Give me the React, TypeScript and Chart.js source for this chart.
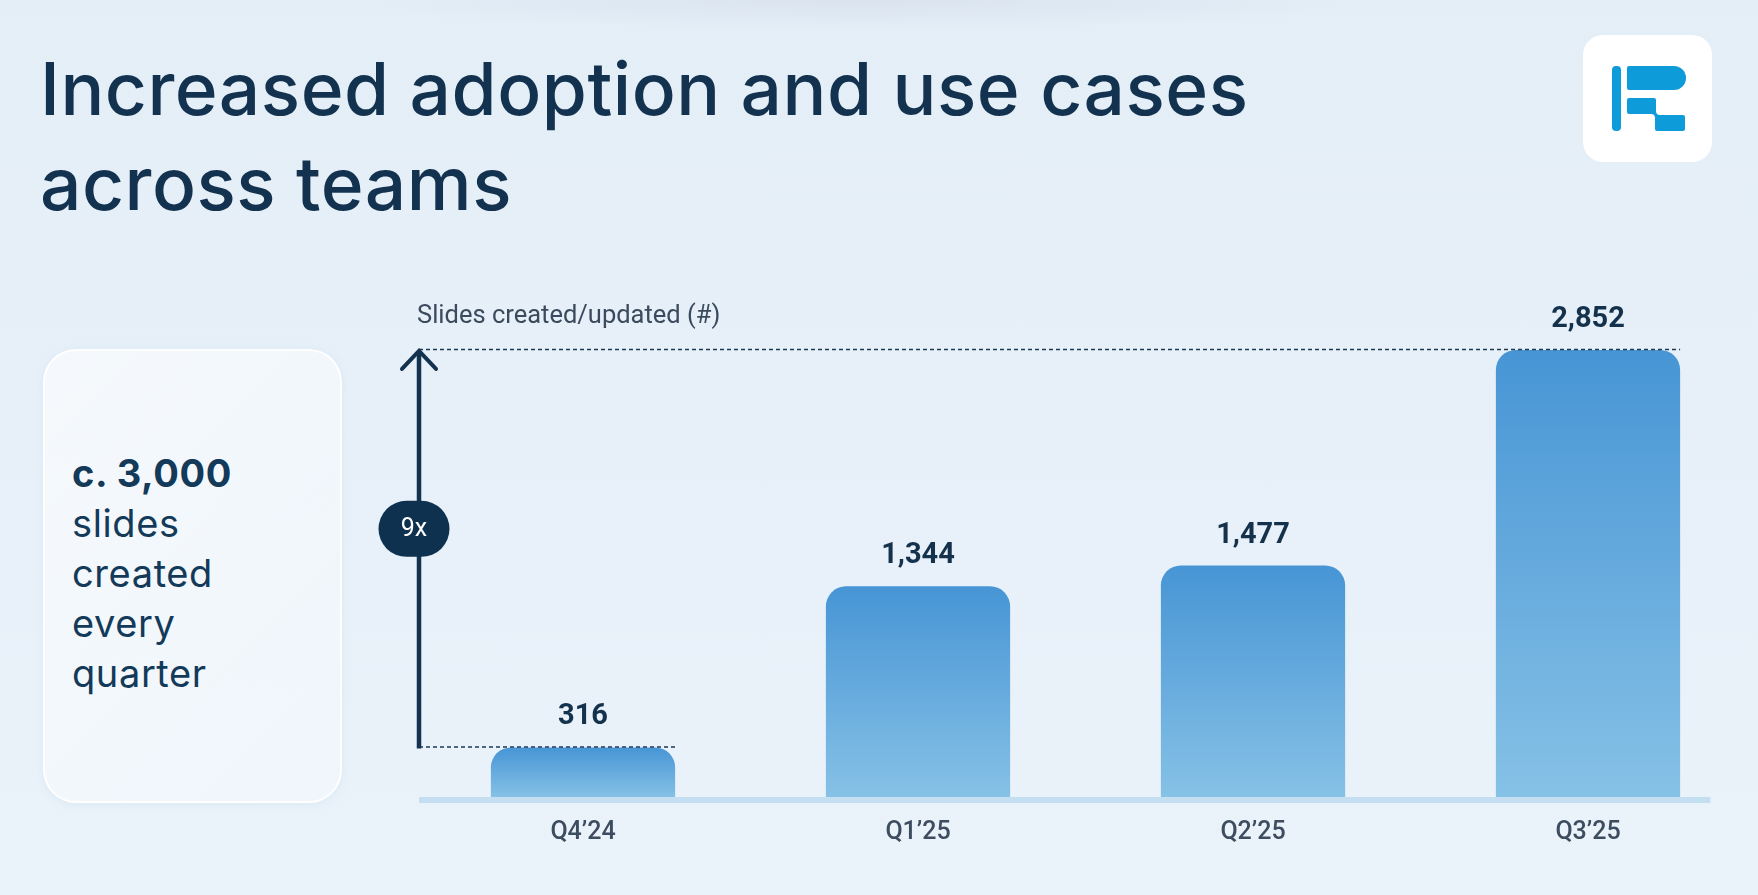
import React, { useEffect, useRef } from "react";
import { Chart, registerables } from "chart.js";

Chart.register(...registerables);

// ---- data ----
const categories = ["Q4’24", "Q1’25", "Q2’25", "Q3’25"];
const slides = [316, 1344, 1477, 2852];
const valueLabels = ["316", "1,344", "1,477", "2,852"];
const growthLabel = "9x";
const axisTitle = "Slides created/updated (#)";
const yMax = 3000;
const titleLines = ["Increased adoption and use cases", "across teams"];
const calloutBold = "c. 3,000";
const calloutLines = ["slides", "created", "every", "quarter"];

const NAVY = "#13324f";

const overlayPlugin = {
  id: "overlay",
  beforeDatasetsDraw(chart: any) {
    const { ctx, chartArea } = chart;
    ctx.save();
    ctx.fillStyle = "#c3dff1";
    const x0 = chartArea.left + 3.5;
    const x1 = chartArea.right - 45;
    ctx.fillRect(x0, chartArea.bottom, x1 - x0, 6);
    ctx.restore();
  },
  afterDatasetsDraw(chart: any) {
    const { ctx, chartArea } = chart;
    const meta = chart.getDatasetMeta(0);
    const els = meta.data;
    const first = els[0];
    const last = els[els.length - 1];
    const ax = chartArea.left + 3.5;
    ctx.save();

    // axis title
    ctx.font = "400 25.5px Roboto";
    ctx.fillStyle = "#3b4a5d";
    ctx.textAlign = "left";
    ctx.textBaseline = "alphabetic";
    ctx.fillText(axisTitle, chartArea.left + 1.5, chartArea.top - 4);

    // value labels
    ctx.font = "700 29px Roboto";
    ctx.fillStyle = "#15324d";
    ctx.textAlign = "center";
    els.forEach((el: any, i: number) => {
      ctx.fillText(valueLabels[i], el.x, el.y - 23);
    });

    // dotted reference lines
    ctx.strokeStyle = "#1d3a55";
    ctx.lineWidth = 1.6;
    ctx.setLineDash([4, 3]);
    [first, last].forEach((el: any) => {
      ctx.beginPath();
      ctx.moveTo(ax, el.y - 0.5);
      ctx.lineTo(el.x + el.width / 2, el.y - 0.5);
      ctx.stroke();
    });
    ctx.setLineDash([]);

    // arrow
    ctx.strokeStyle = NAVY;
    ctx.lineWidth = 4.5;
    ctx.lineCap = "butt";
    ctx.beginPath();
    ctx.moveTo(ax, first.y + 1);
    ctx.lineTo(ax, last.y + 2);
    ctx.stroke();
    ctx.lineWidth = 4;
    ctx.lineCap = "round";
    ctx.lineJoin = "miter";
    ctx.beginPath();
    ctx.moveTo(ax - 17, last.y + 19);
    ctx.lineTo(ax, last.y + 1);
    ctx.lineTo(ax + 17, last.y + 19);
    ctx.stroke();

    // badge
    const cy = last.y + (first.y - last.y) * 0.45;
    const cx = ax - 5;
    ctx.fillStyle = "#0f3150";
    ctx.beginPath();
    ctx.roundRect(cx - 35.5, cy - 28, 71, 56, 28);
    ctx.fill();
    ctx.fillStyle = "#ffffff";
    ctx.font = "400 25px Roboto";
    ctx.textAlign = "center";
    ctx.textBaseline = "middle";
    ctx.fillText(growthLabel, cx, cy + 1);

    ctx.restore();
  },
};

function BarChart() {
  const ref = useRef<HTMLCanvasElement | null>(null);
  useEffect(() => {
    if (!ref.current) return;
    const chart = new Chart(ref.current, {
      type: "bar",
      data: {
        labels: categories,
        datasets: [
          {
            data: slides,
            backgroundColor: (c: any) => {
              const ch = c.chart;
              const area = ch.chartArea;
              if (!area || c.type !== "data") return "#5ea8dd";
              const top = ch.scales.y.getPixelForValue(c.raw);
              const g = ch.ctx.createLinearGradient(0, top, 0, area.bottom);
              g.addColorStop(0, "#4795d5");
              g.addColorStop(1, "#86c1e6");
              return g;
            },
            borderWidth: 0,
            borderRadius: { topLeft: 20, topRight: 20, bottomLeft: 0, bottomRight: 0 },
            borderSkipped: "bottom",
            barPercentage: 0.55,
            categoryPercentage: 1,
          },
        ],
      },
      options: {
        responsive: false,
        animation: false,
        layout: { padding: { left: 415.5, right: 2.5, top: 326.8, bottom: 26 } },
        plugins: {
          legend: { display: false },
          tooltip: { enabled: false },
        },
        scales: {
          x: {
            grid: { display: false, drawTicks: false },
            border: { display: false },
            ticks: {
              color: "#3d4c5f",
              font: { family: "Roboto", size: 25, weight: "500" },
              padding: 21,
            },
          },
          y: { display: false, min: 0, max: yMax },
        },
      },
      plugins: [overlayPlugin],
    });
    return () => chart.destroy();
  }, []);
  return (
    <canvas
      ref={ref}
      width={1758}
      height={895}
      style={{ position: "absolute", left: 0, top: 0, width: 1758, height: 895 }}
    />
  );
}

function Logo() {
  return (
    <div
      style={{
        position: "absolute",
        left: 1583,
        top: 35,
        width: 129,
        height: 127,
        borderRadius: 20,
        background: "#ffffff",
      }}
    >
      <svg width={129} height={127} viewBox="1583 35 129 127" style={{ position: "absolute", left: 0, top: 0 }}>
        <rect x={1612} y={66} width={9} height={65} rx={4} fill="#0e9bd9" />
        <path d="M1629 66 H1674 A12 12 0 0 1 1674 90 H1629 Q1627 90 1627 88 V68 Q1627 66 1629 66 Z" fill="#0e9bd9" />
        <path
          d="M1629 98 H1654 Q1656 98 1656 100 V111 Q1656 115 1660 115 H1683 Q1685 115 1685 117 V129 Q1685 131 1683 131 H1657 Q1655 131 1655 129 V118 Q1655 114 1651 114 H1629 Q1627 114 1627 112 V100 Q1627 98 1629 98 Z"
          fill="#0e9bd9"
        />
      </svg>
    </div>
  );
}

export default function App() {
  return (
    <div
      style={{
        position: "absolute",
        left: 0,
        top: 0,
        width: 1758,
        height: 895,
        overflow: "hidden",
        background:
          "radial-gradient(ellipse 520px 30px at 860px 0px, rgba(205,214,228,0.45), rgba(205,214,228,0) 100%), linear-gradient(180deg, #e4eef7 0%, #e8f1f9 60%, #eaf3fa 100%)",
        fontFamily: "Inter, 'Noto Sans', sans-serif",
        color: NAVY,
      }}
    >
      <div
        style={{
          position: "absolute",
          left: 40,
          top: 41,
          fontSize: 73,
          lineHeight: "95px",
          fontWeight: 500,
          whiteSpace: "nowrap",
          letterSpacing: "0.5px",
        }}
      >
        {titleLines.map((l, i) => (
          <div key={i}>{l}</div>
        ))}
      </div>
      <Logo />
      <div
        style={{
          position: "absolute",
          left: 43,
          top: 349,
          width: 299,
          height: 454,
          boxSizing: "border-box",
          borderRadius: 33,
          border: "2px solid rgba(255,255,255,0.85)",
          background: "linear-gradient(135deg, rgba(255,255,255,0.6) 0%, rgba(255,255,255,0.3) 100%)",
          boxShadow: "0 2px 10px rgba(150,180,210,0.15)",
        }}
      />
      <div
        style={{
          position: "absolute",
          left: 72,
          top: 448,
          fontSize: 38,
          lineHeight: "50px",
          whiteSpace: "nowrap",
          letterSpacing: "0.6px",
          color: "#143a5a",
        }}
      >
        <div style={{ fontWeight: 700 }}>{calloutBold}</div>
        {calloutLines.map((l, i) => (
          <div key={i} style={{ fontWeight: 400 }}>
            {l}
          </div>
        ))}
      </div>
      <BarChart />
    </div>
  );
}
